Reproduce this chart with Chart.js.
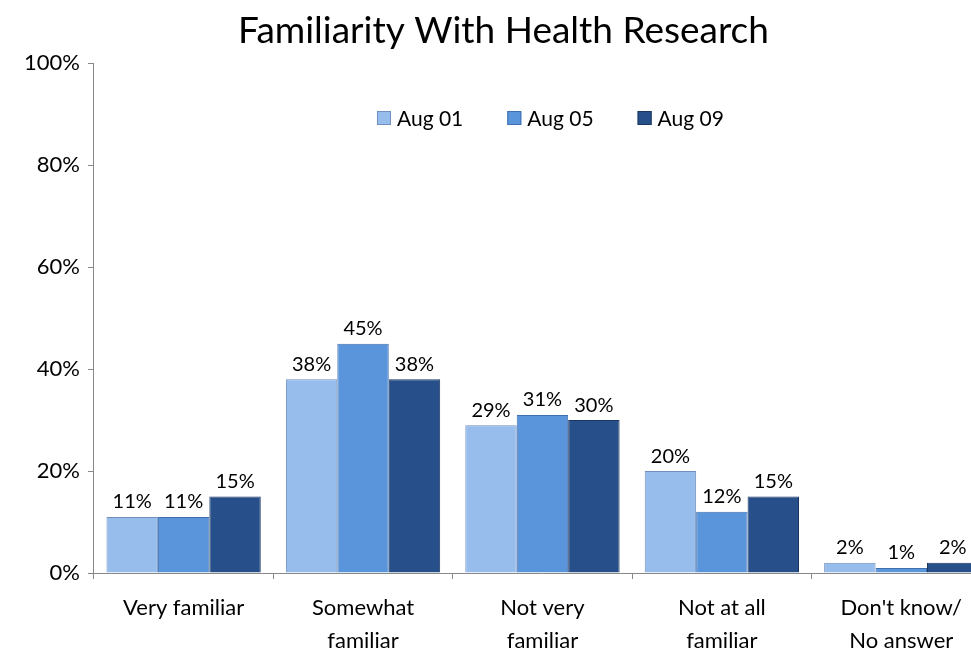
<!DOCTYPE html>
<html>
<head>
<meta charset="utf-8">
<script src="https://cdn.jsdelivr.net/npm/chart.js@4"></script>
<style>
  html, body { margin: 0; padding: 0; background: #fff; overflow: hidden; }
  #wrap { width: 1003px; height: 659px; }
</style>
</head>
<body>
<div id="wrap"><canvas id="myChart"></canvas></div>
<script>
const categories = [['Very familiar'], ['Somewhat', 'familiar'], ['Not very', 'familiar'], ['Not at all', 'familiar'], ["Don't know/", 'No answer']];
const aug01 = [11, 38, 29, 20, 2];
const aug05 = [11, 45, 31, 12, 1];
const aug09 = [15, 38, 30, 15, 2];
const yTicks = [0, 20, 40, 60, 80, 100];

const font = 'Lato, "Open Sans", sans-serif';

// values above the bars
const valueLabels = {
  id: 'valueLabels',
  afterDatasetsDraw(chart) {
    const ctx = chart.ctx;
    ctx.save();
    ctx.font = '20px ' + font;
    ctx.fillStyle = '#000';
    ctx.textAlign = 'center';
    ctx.textBaseline = 'bottom';
    chart.data.datasets.forEach(function (ds, i) {
      chart.getDatasetMeta(i).data.forEach(function (bar, j) {
        ctx.fillText(ds.data[j] + '%', bar.x, bar.y - 5);
      });
    });
    ctx.restore();
  }
};

// legend drawn inside the plot, one row near the top
const innerLegend = {
  id: 'innerLegend',
  afterDraw(chart) {
    const ctx = chart.ctx;
    const area = chart.chartArea;
    ctx.save();
    ctx.font = '21px ' + font;
    ctx.textBaseline = 'middle';
    const items = chart.data.datasets.map(function (ds) {
      return { ds: ds, w: 14 + 6 + ctx.measureText(ds.label).width };
    });
    const gap = 44;
    let total = gap * (items.length - 1);
    items.forEach(function (it) { total += it.w; });
    let x = (area.left + area.right) / 2 + 8 - total / 2;
    const y = 118;
    items.forEach(function (it) {
      ctx.fillStyle = it.ds.backgroundColor;
      ctx.fillRect(x, y - 7, 14, 14);
      ctx.strokeStyle = it.ds.borderColor;
      ctx.lineWidth = 1;
      ctx.strokeRect(x + 0.5, y - 6.5, 13, 13);
      ctx.fillStyle = '#000';
      ctx.fillText(it.ds.label, x + 20, y + 1);
      x += it.w + gap;
    });
    ctx.restore();
  }
};

const ctx = document.getElementById('myChart');
new Chart(ctx, {
  type: 'bar',
  data: {
    labels: categories,
    datasets: [
      { label: 'Aug 01', data: aug01, backgroundColor: '#97BDEC', borderColor: '#6F8FBF', borderWidth: 1 },
      { label: 'Aug 05', data: aug05, backgroundColor: '#5A95DC', borderColor: '#3F6FAE', borderWidth: 1 },
      { label: 'Aug 09', data: aug09, backgroundColor: '#27508A', borderColor: '#1A3760', borderWidth: 1 }
    ]
  },
  plugins: [valueLabels, innerLegend],
  options: {
    responsive: true,
    maintainAspectRatio: false,
    animation: false,
    layout: { padding: { left: 16, right: 12, top: 0, bottom: -10 } },
    datasets: {
      bar: { categoryPercentage: 0.86, barPercentage: 1 }
    },
    plugins: {
      title: {
        display: true,
        text: 'Familiarity With Health Research',
        color: '#000',
        font: { family: font, size: 37, weight: 'normal' },
        padding: { top: 9, bottom: 10 }
      },
      legend: { display: false },
      tooltip: { enabled: false }
    },
    scales: {
      y: {
        min: 0,
        max: 100,
        afterBuildTicks: function (axis) {
          axis.ticks = yTicks.map(function (v) { return { value: v }; });
        },
        ticks: {
          color: '#000',
          font: { family: font, size: 22 },
          padding: 8,
          callback: function (v) { return v + '%'; }
        },
        grid: { drawOnChartArea: false, tickLength: 6, color: '#888' },
        border: { color: '#888' }
      },
      x: {
        ticks: {
          color: '#000',
          font: { family: font, size: 22, lineHeight: 1.5 },
          padding: 12
        },
        grid: { drawOnChartArea: false, tickLength: 6, color: '#888', offset: true },
        border: { color: '#888' }
      }
    }
  }
});
</script>
</body>
</html>
